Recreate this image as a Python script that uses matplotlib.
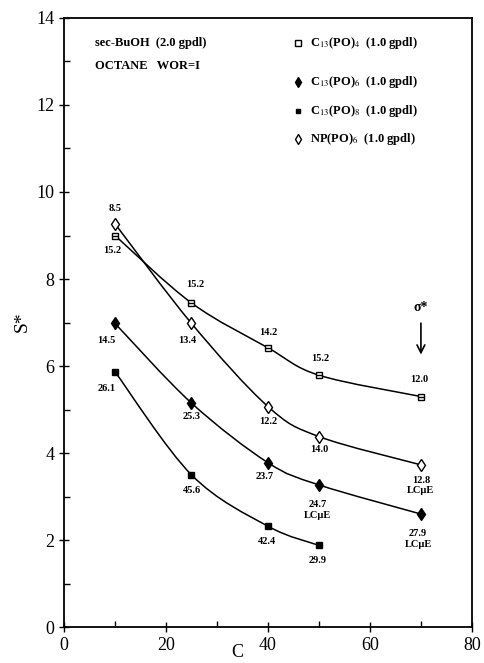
import matplotlib
matplotlib.use("Agg")
import matplotlib.pyplot as plt
import numpy as np
from matplotlib.path import Path
from matplotlib.patches import PathPatch

plt.rcParams["font.family"] = ["Liberation Serif", "DejaVu Serif"]
plt.rcParams["mathtext.fontset"] = "stix"

# data
x_c4 = [10, 25, 40, 50, 70]
s_c4 = [9.0, 7.45, 6.42, 5.79, 5.3]
lab_c4 = ["15.2", "15.2", "14.2", "15.2", "12.0"]

x_np6 = [10, 25, 40, 50, 70]
s_np6 = [9.27, 6.98, 5.07, 4.38, 3.73]
lab_np6 = ["8.5", "13.4", "12.2", "14.0", "12.8\nLC\u03bcE"]

x_c6 = [10, 25, 40, 50, 70]
s_c6 = [6.98, 5.15, 3.78, 3.27, 2.6]
lab_c6 = ["14.5", "25.3", "23.7", "24.7\nLC\u03bcE", "27.9\nLC\u03bcE"]

x_c8 = [10, 25, 40, 50]
s_c8 = [5.87, 3.5, 2.32, 1.88]
lab_c8 = ["26.1", "45.6", "42.4", "29.9"]

legend_names = [
    "C$_{13}$(PO)$_4$  (1.0 gpdl)",
    "C$_{13}$(PO)$_6$  (1.0 gpdl)",
    "C$_{13}$(PO)$_8$  (1.0 gpdl)",
    "NP(PO)$_6$  (1.0 gpdl)",
]


def smooth_path(ax, xs, ys):
    # Catmull-Rom segments drawn as cubic Bezier curves
    p = np.column_stack([xs, ys]).astype(float)
    ext = np.vstack([p[0], p, p[-1]])
    verts = [tuple(p[0])]
    codes = [Path.MOVETO]
    for i in range(1, len(ext) - 2):
        c1 = ext[i] + (ext[i + 1] - ext[i - 1]) / 6.0
        c2 = ext[i + 1] - (ext[i + 2] - ext[i]) / 6.0
        verts += [tuple(c1), tuple(c2), tuple(ext[i + 1])]
        codes += [Path.CURVE4] * 3
    ax.add_patch(PathPatch(Path(verts, codes), fill=False, lw=1.1, ec="black"))


def annotate(ax, xs, ys, labels, offsets):
    for x, y, t, (dx, dy) in zip(xs, ys, labels, offsets):
        ax.annotate(t, (x, y), xytext=(dx, dy), textcoords="offset points",
                    ha="center", va="center", fontsize=7.5, fontweight="bold",
                    linespacing=1.2)


fig = plt.figure(figsize=(4.85, 6.63), dpi=100)
ax = fig.add_axes([0.132, 0.054, 0.841, 0.919])
ax.set_xlim(0, 80)
ax.set_ylim(0, 14)

for xs, ys in [(x_c4, s_c4), (x_np6, s_np6), (x_c6, s_c6), (x_c8, s_c8)]:
    smooth_path(ax, xs, ys)

ax.plot(x_c4, s_c4, "s", ms=5, mfc="white", mec="black", mew=1.0, zorder=3)
ax.plot(x_c4, s_c4, "_", ms=4, mec="black", mew=1.0, zorder=4)
ax.plot(x_np6, s_np6, "d", ms=6, mfc="white", mec="black", mew=1.0, zorder=3)
ax.plot(x_c6, s_c6, "d", ms=6, mfc="black", mec="black", zorder=3)
ax.plot(x_c8, s_c8, "s", ms=4, mfc="black", mec="black", zorder=3)

annotate(ax, x_c4, s_c4, lab_c4, [(-2, -11), (3, 13), (0, 11), (1, 12), (-1, 12)])
annotate(ax, x_np6, s_np6, lab_np6, [(0, 11), (-3, -12), (0, -11), (0, -9), (0, -15)])
annotate(ax, x_c6, s_c6, lab_c6, [(-6, -12), (0, -10), (-2, -10), (-1, -18), (-2, -18)])
annotate(ax, x_c8, s_c8, lab_c8, [(-6, -12), (0, -11), (-1, -11), (-1, -11)])

# sigma* marker
ax.text(70, 7.35, "\u03c3*", ha="center", va="center", fontsize=10, fontweight="bold")
ax.annotate("", xy=(70, 6.2), xytext=(70, 7.05),
            arrowprops=dict(arrowstyle="->", lw=1.2, color="black",
                            mutation_scale=14))

# legend-like text block
tx = dict(transform=ax.transAxes, fontsize=9, fontweight="bold", va="center")
ax.text(0.075, 0.959, "sec-BuOH  (2.0 gpdl)", **tx)
ax.text(0.075, 0.921, "OCTANE   WOR=I", **tx)
rows_y = [0.958, 0.894, 0.848, 0.801]
mk = [dict(marker="s", mfc="white", mec="black", ms=4.5),
      dict(marker="d", mfc="black", mec="black", ms=5.5),
      dict(marker="s", mfc="black", mec="black", ms=3.5),
      dict(marker="d", mfc="white", mec="black", ms=5.5)]
for yy, name, m in zip(rows_y, legend_names, mk):
    ax.plot([0.573], [yy], transform=ax.transAxes, ls="none", **m)
    ax.text(0.603, yy, name, **tx)

ax.set_xticks([0, 20, 40, 60, 80])
ax.set_yticks([0, 2, 4, 6, 8, 10, 12, 14])
ax.set_xticks([10, 30, 50, 70], minor=True)
ax.set_yticks(np.arange(1, 14, 2), minor=True)
ax.tick_params(which="major", direction="inout", length=7, width=1.0, labelsize=13)
ax.tick_params(which="minor", direction="in", length=4, width=1.0)
for s in ax.spines.values():
    s.set_linewidth(1.3)

fig.text(22 / 485, 1 - 322 / 663, "S*", rotation=90, ha="center", va="center", fontsize=14)
fig.text(237 / 485, 2 / 663, "C", ha="center", va="bottom", fontsize=13)

fig.savefig("out.png", dpi=100)
